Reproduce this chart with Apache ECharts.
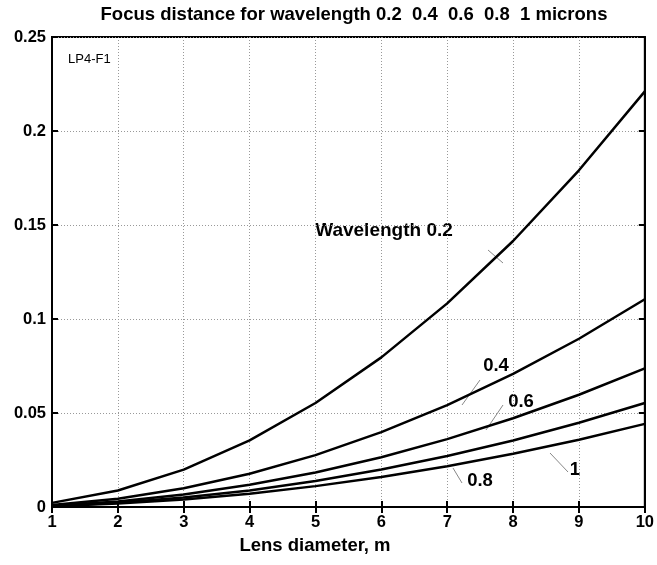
<!DOCTYPE html>
<html>
<head>
<meta charset="utf-8">
<script src="https://cdn.jsdelivr.net/npm/echarts@6/dist/echarts.min.js"></script>
<style>html,body{margin:0;padding:0;background:#fff}#c{width:657px;height:565px}</style>
</head>
<body>
<div id="c"></div>
<script>
var diameters = [1, 2, 3, 4, 5, 6, 7, 8, 9, 10];
var wl02 = [0.0022, 0.0088, 0.0199, 0.0354, 0.0553, 0.0796, 0.1083, 0.1415, 0.1791, 0.2211];
var wl04 = [0.0011, 0.0044, 0.0100, 0.0177, 0.0276, 0.0398, 0.0542, 0.0708, 0.0895, 0.1105];
var wl06 = [0.0007, 0.0029, 0.0066, 0.0118, 0.0184, 0.0265, 0.0361, 0.0472, 0.0597, 0.0737];
var wl08 = [0.00055, 0.0022, 0.0050, 0.0088, 0.0138, 0.0199, 0.0271, 0.0354, 0.0448, 0.0553];
var wl10 = [0.00044, 0.0018, 0.0040, 0.0071, 0.0111, 0.0159, 0.0217, 0.0283, 0.0358, 0.0442];
var xTicks = [1, 10, 1];
var yTicks = [0, 0.25, 0.05];

var F = 'Liberation Sans, Arial, sans-serif';
function pairs(arr){ return diameters.map(function(d,i){ return [d, arr[i]]; }); }
function ser(arr){
  return {type:'line', data:pairs(arr), showSymbol:false, symbol:'none', smooth:false,
    lineStyle:{color:'#000', width:2.5}, xAxisIndex:0, yAxisIndex:0, z:5};
}
var chart = echarts.init(document.getElementById('c'), null, {renderer:'canvas'});
var gridLine = {show:true, lineStyle:{color:'#999', type:[1,2], width:1}};
var BIG = 18.5;
var option = {
  animation:false,
  backgroundColor:'#fff',
  title:{text:'Focus distance for wavelength 0.2  0.4  0.6  0.8  1 microns', left:349, textAlign:'center', top:0,
    textStyle:{fontFamily:F, fontSize:BIG, fontWeight:'bold', color:'#000'}},
  grid:{left:52, right:11, top:37, bottom:58, show:true, borderColor:'#000', borderWidth:2},
  xAxis:[
    {type:'value', min:xTicks[0], max:xTicks[1], interval:xTicks[2], position:'bottom',
     axisLine:{show:true, lineStyle:{color:'#000', width:2}},
     axisTick:{show:true, inside:true, length:6, lineStyle:{color:'#000', width:2}},
     axisLabel:{fontFamily:F, fontSize:16.5, fontWeight:'bold', color:'#000', margin:7},
     splitLine:gridLine},
    {type:'value', min:xTicks[0], max:xTicks[1], interval:xTicks[2], position:'top',
     axisLine:{show:true, lineStyle:{color:'#000', width:2}},
     axisTick:{show:true, inside:true, length:6, lineStyle:{color:'#000', width:2}},
     axisLabel:{show:false}, splitLine:{show:false}}
  ],
  yAxis:[
    {type:'value', min:yTicks[0], max:yTicks[1], interval:yTicks[2], position:'left',
     axisLine:{show:true, lineStyle:{color:'#000', width:2}},
     axisTick:{show:true, inside:true, length:6, lineStyle:{color:'#000', width:2}},
     axisLabel:{fontFamily:F, fontSize:16.5, fontWeight:'bold', color:'#000', margin:6,
       formatter:function(v){ return String(Math.round(v*100)/100); }},
     splitLine:gridLine},
    {type:'value', min:yTicks[0], max:yTicks[1], interval:yTicks[2], position:'right',
     axisLine:{show:true, lineStyle:{color:'#000', width:2}},
     axisTick:{show:true, inside:true, length:6, lineStyle:{color:'#000', width:2}},
     axisLabel:{show:false}, splitLine:{show:false}}
  ],
  series:[ser(wl02), ser(wl04), ser(wl06), ser(wl08), ser(wl10)],
  graphic:[
    {type:'text', x:315, y:546, style:{text:'Lens diameter, m', font:'bold '+BIG+'px '+F, fill:'#000', textAlign:'center', textVerticalAlign:'middle'}},
    {type:'text', left:68, top:53, style:{text:'LP4-F1', font:'13px '+F, fill:'#000'}},
    {type:'text', x:384, y:231, style:{text:'Wavelength 0.2', font:'bold 19px '+F, fill:'#000', textAlign:'center', textVerticalAlign:'middle'}},
    {type:'line', shape:{x1:488, y1:250, x2:503, y2:263}, style:{stroke:'#888', lineWidth:1}},
    {type:'text', x:496, y:366, style:{text:'0.4', font:'bold '+BIG+'px '+F, fill:'#000', textAlign:'center', textVerticalAlign:'middle'}},
    {type:'line', shape:{x1:480, y1:380, x2:462, y2:405}, style:{stroke:'#888', lineWidth:1}},
    {type:'text', x:521, y:402, style:{text:'0.6', font:'bold '+BIG+'px '+F, fill:'#000', textAlign:'center', textVerticalAlign:'middle'}},
    {type:'line', shape:{x1:503, y1:405, x2:486, y2:430}, style:{stroke:'#888', lineWidth:1}},
    {type:'text', x:480, y:481, style:{text:'0.8', font:'bold '+BIG+'px '+F, fill:'#000', textAlign:'center', textVerticalAlign:'middle'}},
    {type:'line', shape:{x1:453, y1:468, x2:462, y2:483}, style:{stroke:'#888', lineWidth:1}},
    {type:'text', x:575, y:470, style:{text:'1', font:'bold '+BIG+'px '+F, fill:'#000', textAlign:'center', textVerticalAlign:'middle'}},
    {type:'line', shape:{x1:550, y1:453, x2:568, y2:472}, style:{stroke:'#888', lineWidth:1}}
  ]
};
chart.setOption(option);
</script>
</body>
</html>
